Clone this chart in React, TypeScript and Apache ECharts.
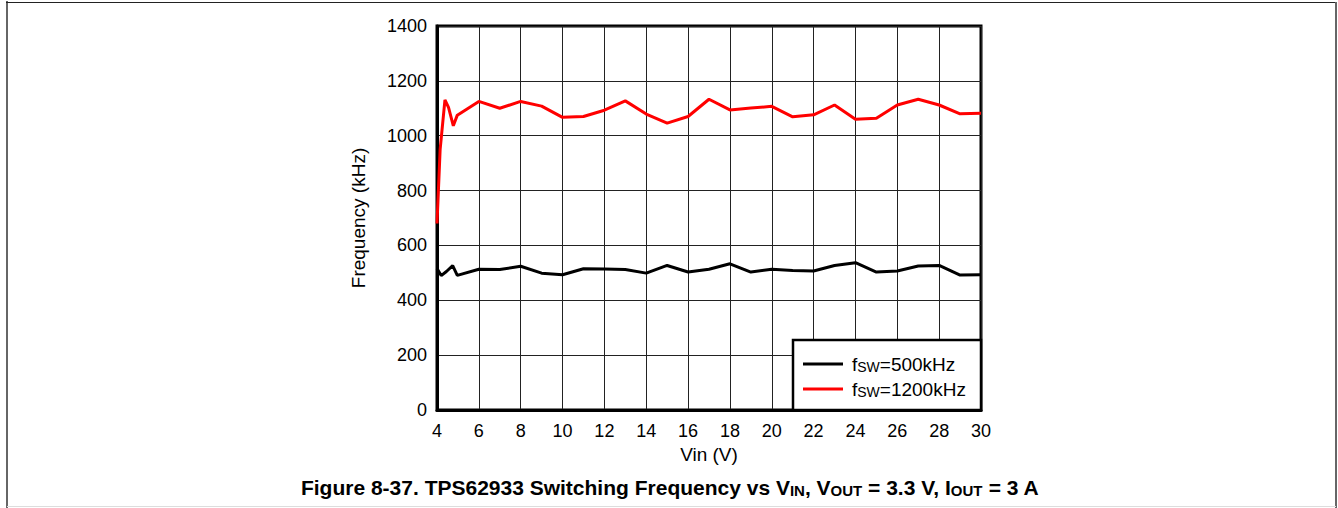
import React, { useEffect, useRef } from "react";
import * as echarts from "echarts";

const vinMain = [6, 7, 8, 9, 10, 11, 12, 13, 14, 15, 16, 17, 18, 19, 20, 21, 22, 23, 24, 25, 26, 27, 28, 29, 30];

const vin500Start = [4.0, 4.2, 4.45, 4.75, 4.97];
const f500Start = [516, 490, 505, 526, 491];
const f500Main = [513, 512, 524, 499, 493, 515, 514, 512, 499, 527, 503, 513, 533, 503, 513, 509, 507, 527, 537, 503, 507, 525, 527, 492, 493];

const vin1200Start = [4.0, 4.15, 4.38, 4.55, 4.78, 4.97];
const f1200Start = [680, 950, 1131, 1103, 1036, 1075];
const f1200Main = [1125, 1100, 1125, 1108, 1067, 1070, 1093, 1127, 1079, 1046, 1070, 1133, 1094, 1101, 1107, 1069, 1076, 1112, 1060, 1064, 1112, 1133, 1112, 1080, 1082];

const xTicks = { min: 4, max: 30, interval: 2 };
const yTicks = { min: 0, max: 1400, interval: 200 };

const seriesNames = ["fSW=500kHz", "fSW=1200kHz"];
const legendRich: Record<string, string> = {
  "fSW=500kHz": "{a|f}{s|SW}{a|=500kHz}",
  "fSW=1200kHz": "{a|f}{s|SW}{a|=1200kHz}",
};

const pairs = (xs: number[], ys: number[]) => xs.map((x, i) => [x, ys[i]]);

const FONT = "'Liberation Sans', Arial, sans-serif";

export default function App() {
  const ref = useRef<HTMLDivElement>(null);
  useEffect(() => {
    if (!ref.current) return;
    const chart = echarts.init(ref.current, undefined, { renderer: "svg" });
    const d500 = pairs(vin500Start.concat(vinMain), f500Start.concat(f500Main));
    const d1200 = pairs(vin1200Start.concat(vinMain), f1200Start.concat(f1200Main));
    chart.setOption({
      animation: false,
      backgroundColor: "#fff",
      textStyle: { fontFamily: FONT },
      grid: {
        left: 437,
        right: 357,
        top: 26,
        bottom: 98,
        show: true,
        borderColor: "#000",
        borderWidth: 3,
        containLabel: false,
      },
      xAxis: {
        type: "value",
        min: xTicks.min,
        max: xTicks.max,
        interval: xTicks.interval,
        name: "Vin (V)",
        nameLocation: "middle",
        nameGap: 33,
        nameTextStyle: { color: "#000", fontSize: 19, fontFamily: FONT },
        axisLine: { show: true, lineStyle: { color: "#000", width: 3 } },
        axisTick: { show: false },
        axisLabel: { color: "#000", fontSize: 18, margin: 12, fontFamily: FONT },
        splitLine: { show: true, lineStyle: { color: "#222", width: 1 } },
      },
      yAxis: {
        type: "value",
        min: yTicks.min,
        max: yTicks.max,
        interval: yTicks.interval,
        name: "Frequency (kHz)",
        nameLocation: "middle",
        nameGap: 69,
        nameRotate: 90,
        nameTextStyle: { color: "#000", fontSize: 19, fontFamily: FONT },
        axisLine: { show: true, lineStyle: { color: "#000", width: 3 } },
        axisTick: { show: false },
        axisLabel: { color: "#000", fontSize: 18, margin: 10, fontFamily: FONT, formatter: (v: number) => String(v) },
        splitLine: { show: true, lineStyle: { color: "#222", width: 1 } },
      },
      legend: {
        orient: "vertical",
        left: 803,
        top: 352,
        itemWidth: 40,
        itemHeight: 3,
        itemGap: 3,
        icon: "rect",
        padding: 0,
        z: 6,
        data: seriesNames,
        formatter: (name: string) => legendRich[name],
        textStyle: {
          color: "#000",
          fontFamily: FONT,
          padding: [0, 0, 0, 4],
          rich: {
            a: { fontSize: 19, color: "#000", fontFamily: FONT, lineHeight: 20 },
            s: { fontSize: 14, color: "#000", fontFamily: FONT, lineHeight: 20, verticalAlign: "bottom", padding: [8, 0, 0, 0] },
          },
        },
      },
      series: [
        {
          name: seriesNames[0],
          type: "line",
          data: d500,
          symbol: "none",
          lineStyle: { color: "#000", width: 3 },
          itemStyle: { color: "#000" },
          z: 3,
        },
        {
          name: seriesNames[1],
          type: "line",
          data: d1200,
          symbol: "none",
          lineStyle: { color: "#ff0000", width: 3 },
          itemStyle: { color: "#ff0000" },
          z: 3,
        },
      ],
      graphic: [
        {
          type: "rect",
          z: 5,
          shape: { x: 793, y: 340, width: 188, height: 70 },
          style: { fill: "#fff", stroke: "#000", lineWidth: 2.5 },
        },
        {
          type: "text",
          z: 5,
          x: 670,
          y: 487,
          style: {
            text: "{b|Figure 8-37. TPS62933 Switching Frequency vs V}{s|IN}{b|, V}{s|OUT}{b| = 3.3 V, I}{s|OUT}{b| = 3 A}",
            align: "center",
            verticalAlign: "middle",
            rich: {
              b: { fontSize: 21, fontWeight: "bold", fill: "#000", fontFamily: FONT, lineHeight: 22 },
              s: { fontSize: 15, fontWeight: "bold", fill: "#000", fontFamily: FONT, lineHeight: 22, verticalAlign: "bottom", padding: [8, 0, 0, 0] },
            },
          },
        },
        { type: "line", shape: { x1: 7, y1: 1, x2: 7, y2: 508 }, style: { stroke: "#666", lineWidth: 2 } },
        { type: "line", shape: { x1: 6, y1: 2.5, x2: 1336, y2: 2.5 }, style: { stroke: "#222", lineWidth: 1 } },
        { type: "line", shape: { x1: 1336, y1: 2, x2: 1336, y2: 508 }, style: { stroke: "#666", lineWidth: 2 } },
        { type: "line", shape: { x1: 7, y1: 506.5, x2: 1336, y2: 506.5 }, style: { stroke: "#ddd", lineWidth: 1 } },
      ],
    });
    return () => chart.dispose();
  }, []);
  return (
    <div
      ref={ref}
      style={{ position: "absolute", left: 0, top: 0, width: 1338, height: 508 }}
    />
  );
}
